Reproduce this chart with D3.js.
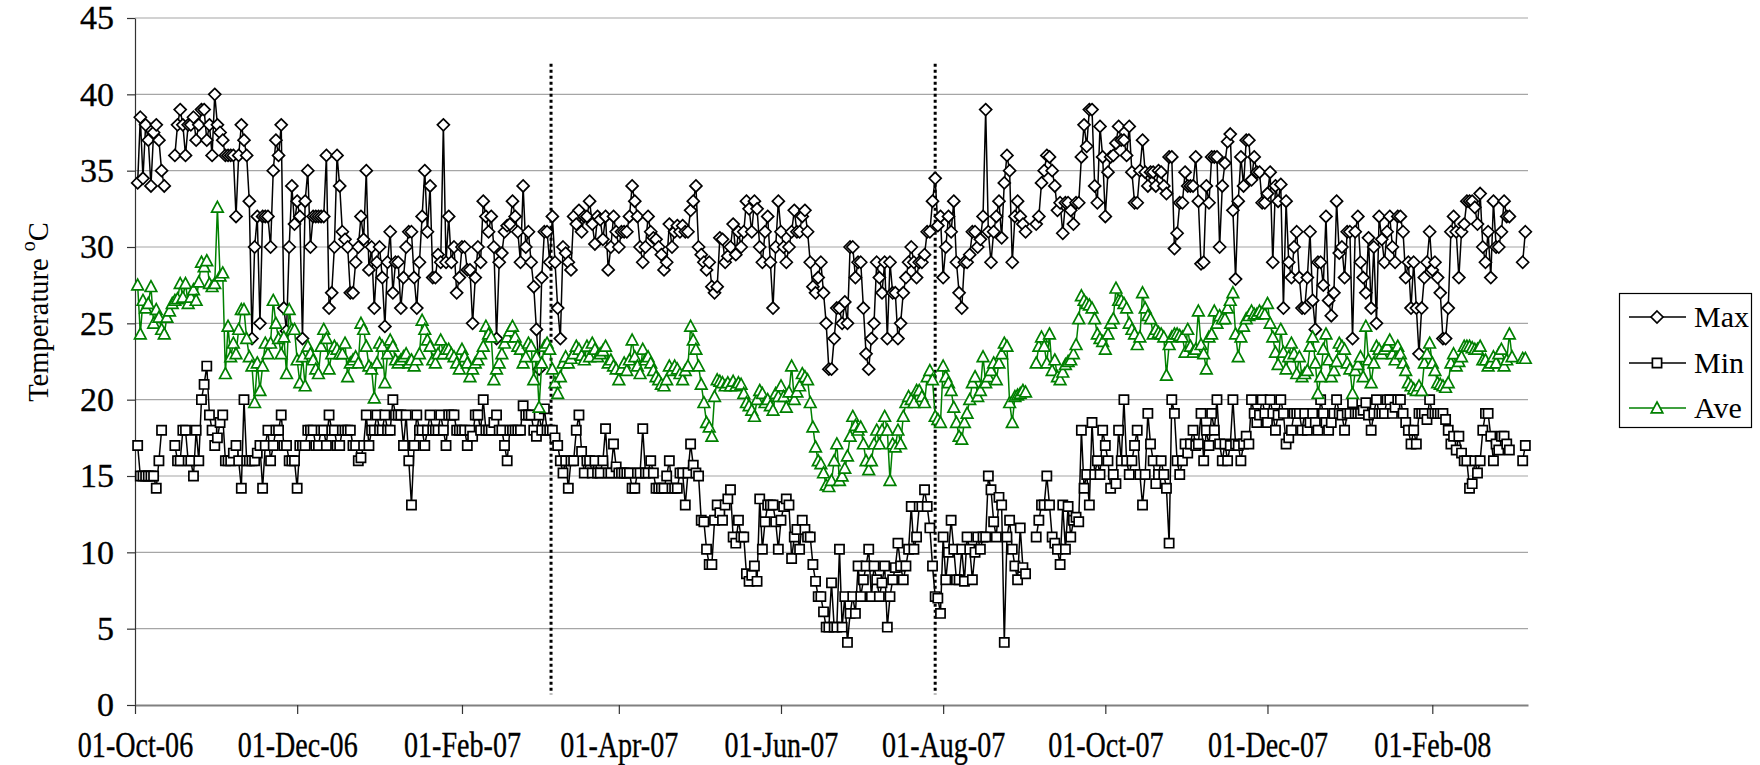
<!DOCTYPE html>
<html>
<head>
<meta charset="utf-8">
<script src="https://cdn.jsdelivr.net/npm/d3@7"></script>
<style>
  body { margin: 0; background: #fff; }
  svg { display: block; }
  svg, svg text { font-family: "Liberation Serif", "Times New Roman", Times, "DejaVu Serif", serif; fill: #000; }
</style>
</head>
<body>
<svg id="chart" width="1760" height="765"></svg>
<script>
// Daily temperatures (°C), one value per day starting 01-Oct-2006; null = no record.
const firstDay = "2006-10-01";

const maxTemp = [
  null, 34.2, 38.5, 34.5, 38, 37, 34, 37.5, 38, 37,
  35, 34, null, null, null, 36, 38, 39, 38, 36,
  38, 38, 38.5, 37, 38, 39, 39, 37, 38, 36,
  40, 38, 37.5, 37, 36, 36, 36, 36, 32, 36,
  38, 37, 36, 33, 24, 30, 32, 25, 32, 32,
  32, 30, 35, 37, 36, 38, 26, 24.5, 30, 34,
  31.5, 33, 32, 24, 33, 35, 30, 32, 32, 32,
  32, 32, 36, 26, 27, 30, 36, 34, 31, 30.5,
  30, 27, 27, 29, 30, 32, 30.5, 35, 28.5, 30,
  26, 29, 30, 28, 24.8, 29, 31, 27, 29, 29,
  26, 28, 30, 31, 31, 28, 26, 29, 32, 35,
  31, 34, 28, 28, 29.5, 29, 38, 29, 32, 29,
  30, 27, 28, 30, 30, 28.5, 28.5, 25, 28, 30,
  29, 33, 32, 31, 32, 30, 24, 29, 29.6, 31,
  31.4, 31.5, 33, 32, 31, 29, 34, 30, 31, 29,
  27.4, 24.6, 22, 28, 31, 31, 29, 32, 29, 26,
  24, 30, 29.6, 29, 28.5, 32, 31.5, 32.4, 31, 32,
  32, 33, 31.5, 30.2, 32, 31.8, 30.5, 32, 28.5, 30,
  32, 31, 30, 31, 31, 31, 32, 34, 33, 32,
  30, 29, 30, 32, 31, 30.6, 30.5, 30, 29.5, 28.5,
  29, 31.5, 30, 31, 31.4, 31, 31.4, 31, 31, 32.4,
  33, 34, 30, 29.5, 29, 28.5, 29, 27.4, 27, 27.4,
  30.6, 30.5, 29, 29.4, 30, 31.5, 29.5, 31, 30, 31,
  33, 32.5, 31, 33, 32.5, 30, 29, 31, 32, 29,
  26, 30, 33, 31, 30, 29, 30, 31, 32.4, 31,
  31, 32, 32.4, 31, 29, 27.4, 27, 28, 29, 27,
  25, 22, 22, 24, 26, 26, 25, 26.4, 25, 30,
  30, 28, 29, 29, 26, 23, 22, 24, 25, 29,
  28, 27, 29, 24, 29, 27, 27, 24, 25, 27,
  28, 29, 30, 29, 28, 29, 29, 29.5, 31, 31,
  33, 34.5, 31.4, 32, 28, 30, 32, 31, 33, 29,
  27, 26, 29, 29, 29.5, 31, 31, 30, 30.5, 32,
  39, 31, 29, 31, 32, 33, 30.6, 34.2, 36, 35,
  29, 32, 33, 32, 31.5, 31, null, null, null, 31.5,
  32, 34.2, 35, 36, 35.9, 35, 34, 32.4, 32.9, 30.9,
  32.9, 32.9, 32.4, 31.5, 32.9, 32.9, 35.9, 38, 36.6, 39,
  39, 34, 32.9, 37.9, 35.9, 32, 34.9, 35.9, 36, 36.8,
  37.9, 37, 37, 36, 37.9, 34.9, 32.9, 32.9, 35, 37,
  34.9, 34, 34.9, 34.9, 34, 35, 34.9, 34, 33.5, 35.9,
  35.9, 29.9, 30.9, 32.9, 32.9, 34.9, 34, 34, 34, 35.9,
  33, 28.9, 29, 34, 32.9, 35.9, 35.9, 35.9, 30, 34,
  35.5, 36.9, 37.4, 32.4, 27.9, 33, 35.9, 34, 37, 37,
  34.4, 35.9, 34.9, 34.9, 32.9, 32.9, 33.5, 34.9, 29, 34,
  33, 34.1, 26, 33, 29, 28, 30, 31, 28, 26,
  26, 28, 31, 26.5, 24.6, 29, 29, 27.5, 32, 26.5,
  25.5, 27, 33, 29.6, 30, 28, 31, 31, 24, 31,
  32, 29, 28, 27, 30.6, 26, 30, 25, 32, 30.5,
  29, 31, 32, 30, 29, 32, 32, 31, 28, 29,
  26, 29, 26, 23, 26, 28, 29, 31, 28.5, 29,
  28, 27, 24, 24, 26, 31, 32, 31, 28, 31,
  31.5, 33, 33, 33, 32.6, 31.5, 33.5, 30, 29, 31,
  28, 33, 30, 30, 31, 33, 32, 32, null, null,
  null, null, 29, 31
];

const minTemp = [
  null, 17, 15, 15, 15, 15, 15, 15, 14.2, 16,
  18, null, null, null, null, 17, 16, 16, 18, 18,
  16, 16, 15, 18, 16, 20, 21, 22.2, 19, 18,
  17, 17.5, 18.5, 19, 16, 16, 16, 16.5, 17, 16,
  14.2, 20, 16, 16, 16, 16, 16.5, 17, 14.2, 17,
  18, 16, 17, 18, 18, 19, 17, 17, 16, 16,
  16, 14.2, 17, 17, 17, 18, 18, 18, 17, 17,
  18, 18, 17, 19, 18, 18, 17, 17, 18, 18,
  18, 18, 17, 17, 16, 16.2, 17, 19, 17, 18,
  18, 19, 18, 18, 19, 18, 18, 20, 19, 19,
  19, 17, 19, 16, 13.1, 17, 19, 18, 18, 17,
  18, 19, 18, 18, 18, 19, 18, 17, 19, 19,
  19, 18, 18, 18, 18, 17, 18, 17.6, 19, 19,
  18, 20, 18, 18, 18, 18.5, 19, 18, 18, 17,
  16, 18, 18, 18, 18, 18, 19.6, 19, 19, 19,
  18, 17.6, 19, 18, 19.4, 18, 18, 18, 17.5, 17,
  16, 15.2, 16, 14.2, 16, 16, 18, 19, 16.6, 15.2,
  16, 16, 15.2, 16, 15.2, 15.2, 16, 18.1, 15.2, 15.2,
  17.1, 15.6, 15.2, 15.2, 15.2, 15.2, 15.2, 14.2, 14.2, 15.2,
  15.2, 18.1, 15.2, 15.2, 16, 15.2, 14.2, 14.2, 14.2, 14.2,
  15, 16, 14.2, 14.2, 14.2, 15.2, 15.2, 13.1, 15.2, 17.1,
  15.7, 15.2, 15, 12.1, 12, 10.2, 9.2, 9.2, 12.1, 13.1,
  12.6, 12.1, 13.1, 13.5, 14.1, 11, 10.6, 12.1, 11, 11,
  8.6, 8.1, 8.5, 9.1, 8.1, 13.5, 10.2, 12, 13.1, 13.1,
  13.1, 12, 10.2, 12.1, 13, 13.5, 13.1, 9.6, 11, 11.5,
  10.2, 12.1, 11.5, 11, 11, 9.2, 8.1, 7.1, 7.1, 6.1,
  5.1, 5.1, 8, 5.1, 5.1, 10.2, 5.1, 7.1, 4.1, 6,
  7.1, 6, 9.1, 7.1, 8.2, 9.1, 10.2, 7.1, 9.1, 8.2,
  7.1, 8, 9.1, 5.1, 7.1, 8.2, 9, 10.6, 9.1, 8.2,
  9.1, 10.2, 13, 10.2, 11, 13, 13, 14.1, 13, 11.6,
  9.1, 7.1, 7, 6, 11, 8.2, 10, 12.1, 10.2, 8.2,
  8.2, 10.2, 8.1, 11, 10.2, 8.2, 10, 11, 10.2, 11,
  11, 15, 14.1, 12, 11, 13.6, 13.1, 4.1, 11, 12.1,
  10.2, 9.1, 8.2, 11.6, 9, 8.6, null, null, null, 11,
  12.1, 13.1, 13.1, 15, 13.1, 11, 10.6, 10.2, 9.2, 13.1,
  10.2, 13, 11, 12.1, 12.3, 12, 18, 14.2, 15.1, 13.1,
  18.5, 15.1, 16, 15.1, 18, 17, 16, 14.2, 15.1, 14.5,
  18, 16, 20, 16, 15.1, 16, 17, 18, 15.1, 13.1,
  15.1, 19.1, 17.1, 16, 14.5, 15.1, 16, 15.1, 14.2, 10.6,
  20, 19.1, 16, 15.1, 16, 17.1, 16.5, 17.1, 18, 17,
  17.1, 19.1, 16, 18, 17, 19.1, 18, 20, 17.1, 16,
  17.1, 16, 17, 20, 17.1, 17, 16, 17.1, 17.6, 17.1,
  20, 19.1, 18.5, 19, 20, 19.1, 18.5, 20, 19.1, 18,
  19, 20, 19.1, 17.1, 17.5, 18, 19.1, 19.1, 19.1, 18,
  19.1, 18, 18.5, 19.1, 18.5, 18, 20, 19.1, 18.5, 18,
  18.5, 19.1, 20, 19.1, 19, 18, 19.1, 19.1, 19.8, 19.1,
  19.1, 19.1, 19.3, 19.8, 19, 18, 19.1, 20, 19.1, 19.1,
  19.1, 20, 20, 19.1, 19.5, 20, 20, 19.1, 18.5, 18,
  17.1, 18, 17.1, 19.1, 19.1, 19.1, 18.7, 20, 19.1, 19.1,
  19.1, 19.1, 19.1, 18.7, 18, 17.1, 17.6, 16.7, 17.6, 16.5,
  16, 16, 14.2, 14.5, 16, 15.2, 16, 18, 19.1, 19.1,
  17.6, 16, 17.1, 16.7, 17.6, 17.6, 17.1, 16.7, null, null,
  null, null, 16, 17
];

const aveTemp = [
  null, 27.5, 24.3, 26.5, 26, 26.3, 27.4, 25, 25.9, 25.4,
  24.6, 24.3, 25.4, 25.8, 26.3, 26.5, 26.6, 27.6, 26.7, 27.6,
  26.3, 26.7, 27.2, 26.5, 27.7, 29, 28.7, 29.1, 27.6, 27.4,
  27.6, 32.6, 28.1, 28.3, 21.7, 24.8, 22.8, 23.7, 23, 24.6,
  25.9, 25.9, 24, 22.8, 22.2, 19.8, 22.4, 20.6, 22.2, 23.7,
  23, 23.7, 26.5, 25, 24, 23, 24.1, 21.7, 25.9, 24.6,
  24.6, 22.6, 21.1, 22.8, 20.9, 23.5, 23, 22.6, 22, 21.7,
  23.5, 24.6, 24, 22, 23, 23.5, 23.3, 23, 23, 23.7,
  21.5, 22.4, 22.6, 22.8, 22.4, 25, 24.6, 23.5, 22.2, 22,
  20.1, 22.4, 23.7, 23.5, 21.1, 23, 23.9, 23.5, 22.6, 22.4,
  22.6, 22.8, 23, 22.4, 22.6, 22.2, 22.6, 23, 25.2, 24.6,
  23.9, 23.5, 22.6, 22.4, 23, 23.9, 23, 23.3, 23.3, 23,
  22.8, 22.4, 22, 23.3, 22.8, 22.4, 21.5, 22, 22.4, 22.6,
  23, 23.5, 24.8, 24.3, 24.1, 21.3, 22, 22.4, 23, 23.7,
  24.1, 24.5, 24.8, 24.1, 23.5, 23.3, 22.4, 22.8, 23.7, 23.5,
  21.3, 22.8, 19.5, 22.4, 23.5, 23.7, 23.3, 22, 21.1, 20.4,
  21.5, 22.4, 22.8, 22.4, 22.7, 23, 23.5, 23.3, 22.9, 22.6,
  23.5, 22.8, 23.7, 23.3, 22.8, 23, 23.2, 23.5, 22.4, 22.6,
  22.2, 22, 21.3, 22, 22.4, 21.9, 22.6, 23.9, 22.8, 22.2,
  21.7, 23.3, 22.6, 22.8, 22.4, 21.9, 21.5, 21.3, 21, 20.9,
  21.3, 22.2, 21.9, 22.2, 22, 21.7, 21.3, 21.9, 22.2, 24.8,
  23.9, 23.3, 22.2, 21, 19.8, 18.5, 18.2, 17.6, 20.2, 21.3,
  21.2, 21.1, 20.9, 21.1, 20.9, 21.2, 20.9, 21.1, 21, 20.4,
  19.8, 19.6, 19.3, 18.9, 20, 20.6, 20.4, 19.8, 20, 19.6,
  19.3, 20.4, 20.2, 20.9, 20.2, 19.5, 20.5, 22.2, 20, 20.5,
  20.9, 21.7, 21.5, 21.3, 19.8, 18.2, 16.9, 16, 15.8, 15.2,
  14.4, 14.3, 14.7, 16, 17.1, 14.7, 15, 15.5, 16.3, 17.6,
  18.9, 18.3, 18, 18.2, 17.1, 16, 15.4, 16, 17.1, 18,
  17.1, 18, 18.9, 18, 14.7, 17.1, 16.9, 18, 17.1, 18.9,
  19.8, 20.2, 20, 19.8, 20.6, 20.6, 20.2, 19.8, 21.5, 21.9,
  21.3, 18.9, 18.7, 18.5, 22.2, 21.5, 21.1, 20.6, 19.5, 18.5,
  17.6, 17.4, 18.5, 19.1, 20, 21.1, 21.5, 20.2, 20.6, 22.8,
  21.1, 21.5, 21.9, 22.4, 21.3, 22.4, 23, 23.7, 23.5, 19.8,
  18.5, 20.2, 20.3, 20.4, 20.6, 20.5, null, null, null, 22.4,
  23.5, 24.1, 23.5, 22.4, 24.3, 21.9, 22.6, 21.5, 21.3, 21.8,
  22.3, 22.5, 22.6, 23, 23.6, 25.3, 26.8, 26.5, 26.3, 26.2,
  26, 25.3, 24.3, 24, 23.8, 23.3, 24.3, 25, 25.3, 27.3,
  26.5, 26.5, 26.3, 26, 25, 24.6, 24.3, 23.6, 24.1, 27,
  26, 25.5, 25.3, 24.3, 24.6, 24.4, 24.3, 24.1, 21.6, 23.6,
  24.1, 24.3, 24.3, 24.2, 24.1, 23.1, 24.6, 23.5, 23.1, 23.3,
  25.8, 23.6, 23, 22, 24.1, 24.3, 25.8, 25, 25.5, 25.3,
  25.3, 26, 26.5, 27, 24.3, 22.8, 24.1, 24.8, 25.3, 25.5,
  25.8, 25.6, 25.6, 25.8, 25.7, 25.6, 26.3, 25, 24.1, 23.1,
  22.3, 24.6, 23.1, 22, 22.8, 23.7, 23, 21.7, 22.8, 21.5,
  21.7, 21.9, 23.5, 24.1, 22.4, 20.4, 21.5, 23.3, 24.3, 22.6,
  21.5, 21.9, 22.5, 23.7, 23.5, 23.3, 22.4, 22, 20.4, 21.9,
  22.3, 22.8, 21.5, 24.8, 22.6, 21.1, 22.4, 23.5, 23.3, 23,
  23.3, 23.5, 23.9, 23, 22.6, 23.5, 23, 22.4, 21.9, 21.1,
  20.9, 20.7, 20.6, 20.9, 20.6, 22.4, 23, 23.7, 22.4, 21.9,
  21.1, 21, 20.9, 20.8, 21.1, 22.4, 23, 22.2, 22.5, 22.8,
  23.5, 23.5, 23.5, 23.4, 23.3, 23.3, 23.5, 22.6, 22.6, 22.2,
  22.4, 22.8, 22.4, 23, 23.3, 22.2, 22.6, 24.3, 22.8, null,
  null, null, 22.7, 22.7
];

// Axis ticks and labels
const xTickDates = ["2006-10-01", "2006-12-01", "2007-02-01", "2007-04-01", "2007-06-01",
                    "2007-08-01", "2007-10-01", "2007-12-01", "2008-02-01"];
const yTickValues = [0, 5, 10, 15, 20, 25, 30, 35, 40, 45];
const axisEndDate = "2008-03-08";

// Dotted separators between measurement periods
const periodBreaks = ["2007-03-06T12:00:00Z", "2007-07-29T00:00:00Z"];
const periodBreakSpan = [0.7, 42];

const seriesNames = ["Max", "Min", "Ave"];
const seriesColors = ["#000000", "#000000", "#008000"];
const seriesMarkers = ["diamond", "square", "triangle"];

// ---------------------------------------------------------------
const FONT = '"Liberation Serif", "Times New Roman", Times, "DejaVu Serif", serif';
const svg = d3.select("#chart");
const W = 1760, H = 765;
const plot = { left: 135, right: 1528, top: 18, bottom: 705 };

svg.append("rect").attr("width", W).attr("height", H).attr("fill", "#fff");

const dayMs = 864e5;
const t0 = new Date(firstDay + "T00:00:00Z").getTime();
const dateOf = i => new Date(t0 + i * dayMs);

const x = d3.scaleUtc()
  .domain([new Date(t0), new Date(axisEndDate + "T00:00:00Z")])
  .range([plot.left, plot.right]);
const y = d3.scaleLinear().domain([0, 45]).range([plot.bottom, plot.top]);

// Horizontal gridlines
svg.append("g").selectAll("line")
  .data(yTickValues.filter(v => v > 0))
  .join("line")
  .attr("x1", plot.left).attr("x2", plot.right)
  .attr("y1", d => y(d)).attr("y2", d => y(d))
  .attr("stroke", "#a6a6a6").attr("stroke-width", 1.2);

// Y axis
const yAxis = svg.append("g")
  .attr("transform", `translate(${plot.left},0)`)
  .call(d3.axisLeft(y).tickValues(yTickValues).tickSize(8).tickSizeOuter(0).tickPadding(13));
yAxis.attr("font-family", FONT);
yAxis.select(".domain").attr("stroke", "#333").attr("stroke-width", 1.2);
yAxis.selectAll(".tick line").attr("stroke", "#333").attr("stroke-width", 1.2);
yAxis.selectAll(".tick text")
  .style("font-family", FONT)
  .attr("font-size", 34).attr("fill", "#000")
  .attr("stroke", "#000").attr("stroke-width", 0.35);

// X axis
const xAxis = svg.append("g")
  .attr("transform", `translate(0,${plot.bottom})`)
  .call(d3.axisBottom(x)
    .tickValues(xTickDates.map(s => new Date(s + "T00:00:00Z")))
    .tickFormat(d3.utcFormat("%d-%b-%y"))
    .tickSize(9).tickSizeOuter(0).tickPadding(17));
xAxis.attr("font-family", FONT);
xAxis.select(".domain").attr("stroke", "#808080").attr("stroke-width", 2);
xAxis.selectAll(".tick line").attr("stroke", "#333").attr("stroke-width", 1.2);
xAxis.selectAll(".tick text")
  .style("font-family", FONT)
  .attr("font-size", 36).attr("fill", "#000")
  .attr("stroke", "#000").attr("stroke-width", 0.35)
  .attr("transform", "scale(0.78,1)");

// Period separators
svg.append("g").selectAll("line")
  .data(periodBreaks)
  .join("line")
  .attr("x1", d => x(new Date(d))).attr("x2", d => x(new Date(d)))
  .attr("y1", y(periodBreakSpan[1])).attr("y2", y(periodBreakSpan[0]))
  .attr("stroke", "#000").attr("stroke-width", 3)
  .attr("stroke-dasharray", "3,3");

// Marker shapes
function markerPath(kind) {
  if (kind === "diamond") return "M0,-6L6,0L0,6L-6,0Z";
  if (kind === "square") return "M-4.6,-4.6H4.6V4.6H-4.6Z";
  return "M0,-6L5.8,4.8H-5.8Z";
}

const allSeries = [maxTemp, minTemp, aveTemp];
const line = d3.line()
  .defined(d => d.v != null)
  .x(d => x(d.date))
  .y(d => y(d.v));

allSeries.forEach((vals, si) => {
  const pts = vals.map((v, i) => ({ date: dateOf(i), v }));
  const g = svg.append("g").attr("class", "series-" + seriesNames[si]);
  g.append("path")
    .datum(pts)
    .attr("d", line)
    .attr("fill", "none")
    .attr("stroke", seriesColors[si])
    .attr("stroke-width", 1.5)
    .attr("stroke-linejoin", "round");
  g.selectAll("path.mk")
    .data(pts.filter(p => p.v != null))
    .join("path")
    .attr("class", "mk")
    .attr("d", markerPath(seriesMarkers[si]))
    .attr("transform", d => `translate(${x(d.date)},${y(d.v)})`)
    .attr("fill", "#fff")
    .attr("stroke", seriesColors[si])
    .attr("stroke-width", 1.7);
});

// Y axis title
const title = svg.append("text")
  .attr("transform", "translate(48,312) rotate(-90)")
  .attr("text-anchor", "middle")
  .style("font-family", FONT)
  .attr("font-size", 28.5);
title.append("tspan").text("Temperature ");
title.append("tspan").attr("dy", -13).attr("font-size", 20).text("o");
title.append("tspan").attr("dy", 13).text("C");

// Legend
const legend = svg.append("g").style("font-family", FONT);
legend.append("rect")
  .attr("x", 1619.5).attr("y", 293.5).attr("width", 132).attr("height", 134)
  .attr("fill", "#fff").attr("stroke", "#000").attr("stroke-width", 1.2);
const rows = [317, 363, 408];
seriesNames.forEach((name, i) => {
  const row = legend.append("g").attr("transform", `translate(0,${rows[i]})`);
  row.append("line")
    .attr("x1", 1629).attr("x2", 1686)
    .attr("stroke", seriesColors[i]).attr("stroke-width", 1.5);
  row.append("path")
    .attr("d", markerPath(seriesMarkers[i]))
    .attr("transform", "translate(1657,0)")
    .attr("fill", "#fff").attr("stroke", seriesColors[i]).attr("stroke-width", 1.7);
  row.append("text")
    .attr("x", 1694).attr("y", 10)
    .style("font-family", FONT)
    .attr("font-size", 30)
    .text(name);
});
</script>
</body>
</html>
